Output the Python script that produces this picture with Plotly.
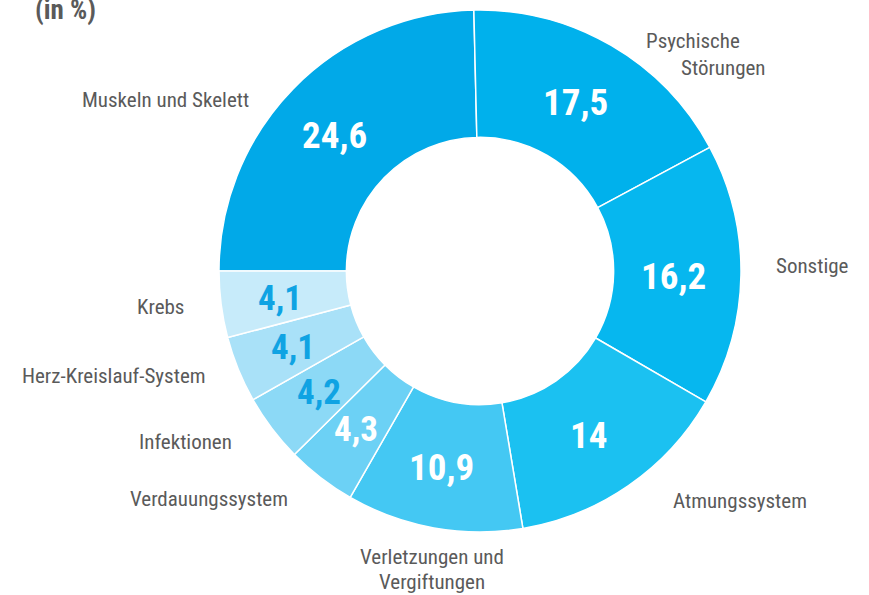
import math
import plotly.graph_objects as go

# ---------------- data ----------------
categories = [
    "Muskeln und Skelett",
    "Psychische Störungen",
    "Sonstige",
    "Atmungssystem",
    "Verletzungen und Vergiftungen",
    "Verdauungssystem",
    "Infektionen",
    "Herz-Kreislauf-System",
    "Krebs",
]
values = [24.6, 17.5, 16.2, 14, 10.9, 4.3, 4.2, 4.1, 4.1]
value_labels = ["24,6", "17,5", "16,2", "14", "10,9", "4,3", "4,2", "4,1", "4,1"]

# ---------------- style / layout ----------------
W, H = 869, 595
CX, CY, R = 480, 271, 261          # donut centre and outer radius (px)
HOLE = 0.512
colors = ["#01A9E8", "#00B1EC", "#06B7EF", "#1BC1F1", "#44C8F3",
          "#6CD1F5", "#8CD9F6", "#A9E1F8", "#C7EBFA"]
value_colors = ["white", "white", "white", "white", "white",
                "white", "#0FA3E3", "#0FA3E3", "#0FA3E3"]
value_sizes = [37, 37, 37, 37, 37, 35, 35, 35, 35]
label_color = "#5A5A5A"
FONT = "Liberation Sans Narrow, Roboto Condensed, DejaVu Sans Condensed, Arial Narrow, sans-serif"

# outside label placement (px centres); multi-line labels split into lines
label_lines = {
    "Muskeln und Skelett": [("Muskeln und Skelett", 165, 100)],
    "Psychische Störungen": [("Psychische", 693, 41), ("Störungen", 723, 68)],
    "Sonstige": [("Sonstige", 812, 266)],
    "Atmungssystem": [("Atmungssystem", 740, 501)],
    "Verletzungen und Vergiftungen": [("Verletzungen und", 432, 557), ("Vergiftungen", 432, 582)],
    "Verdauungssystem": [("Verdauungssystem", 209, 499)],
    "Infektionen": [("Infektionen", 185, 442)],
    "Herz-Kreislauf-System": [("Herz-Kreislauf-System", 114, 376)],
    "Krebs": [("Krebs", 160, 307)],
}

ROTATION = 270  # first slice starts at 9 o'clock, clockwise


def px_to_paper(x, y):
    return x / W, 1 - y / H


x0, y1 = px_to_paper(CX - R, CY - R)
x1, y0 = px_to_paper(CX + R, CY + R)

fig = go.Figure(go.Pie(
    labels=categories,
    values=values,
    sort=False,
    direction="clockwise",
    rotation=ROTATION,
    hole=HOLE,
    marker=dict(colors=colors, line=dict(color="white", width=1.5)),
    textinfo="none",
    showlegend=False,
    domain=dict(x=[x0, x1], y=[y0, y1]),
))

annotations = []
# value labels, at mid-ring of each slice (angles derived from data)
total = sum(values)
cum = 0.0
r_mid = R * (1 + HOLE) / 2
for v, txt, col, sz in zip(values, value_labels, value_colors, value_sizes):
    mid = ROTATION + (cum + v / 2) / total * 360
    cum += v
    a = math.radians(mid)
    x = CX + r_mid * math.sin(a) - 4
    y = CY - r_mid * math.cos(a) + 2
    px, py = px_to_paper(x, y)
    annotations.append(dict(x=px, y=py, xref="paper", yref="paper", text="<b>%s</b>" % txt,
                            showarrow=False, xanchor="center", yanchor="middle",
                            font=dict(family=FONT, size=sz, color=col)))

for cat in categories:
    for txt, x, y in label_lines[cat]:
        px, py = px_to_paper(x, y)
        annotations.append(dict(x=px, y=py, xref="paper", yref="paper", text=txt,
                                showarrow=False, xanchor="center", yanchor="middle",
                                font=dict(family=FONT, size=21, color=label_color)))

# partial title at top-left
tx, ty = px_to_paper(33, 10)
annotations.append(dict(x=tx, y=ty, xref="paper", yref="paper",
                        text="<b>(in %)</b>", showarrow=False, xanchor="left", yanchor="middle",
                        font=dict(family=FONT, size=27, color=label_color)))

fig.update_layout(
    width=W, height=H,
    margin=dict(l=0, r=0, t=0, b=0),
    paper_bgcolor="white", plot_bgcolor="white",
    annotations=annotations,
)

fig.write_html("out.html", config={"displayModeBar": False},
               post_script="document.body.style.margin='0px';")
